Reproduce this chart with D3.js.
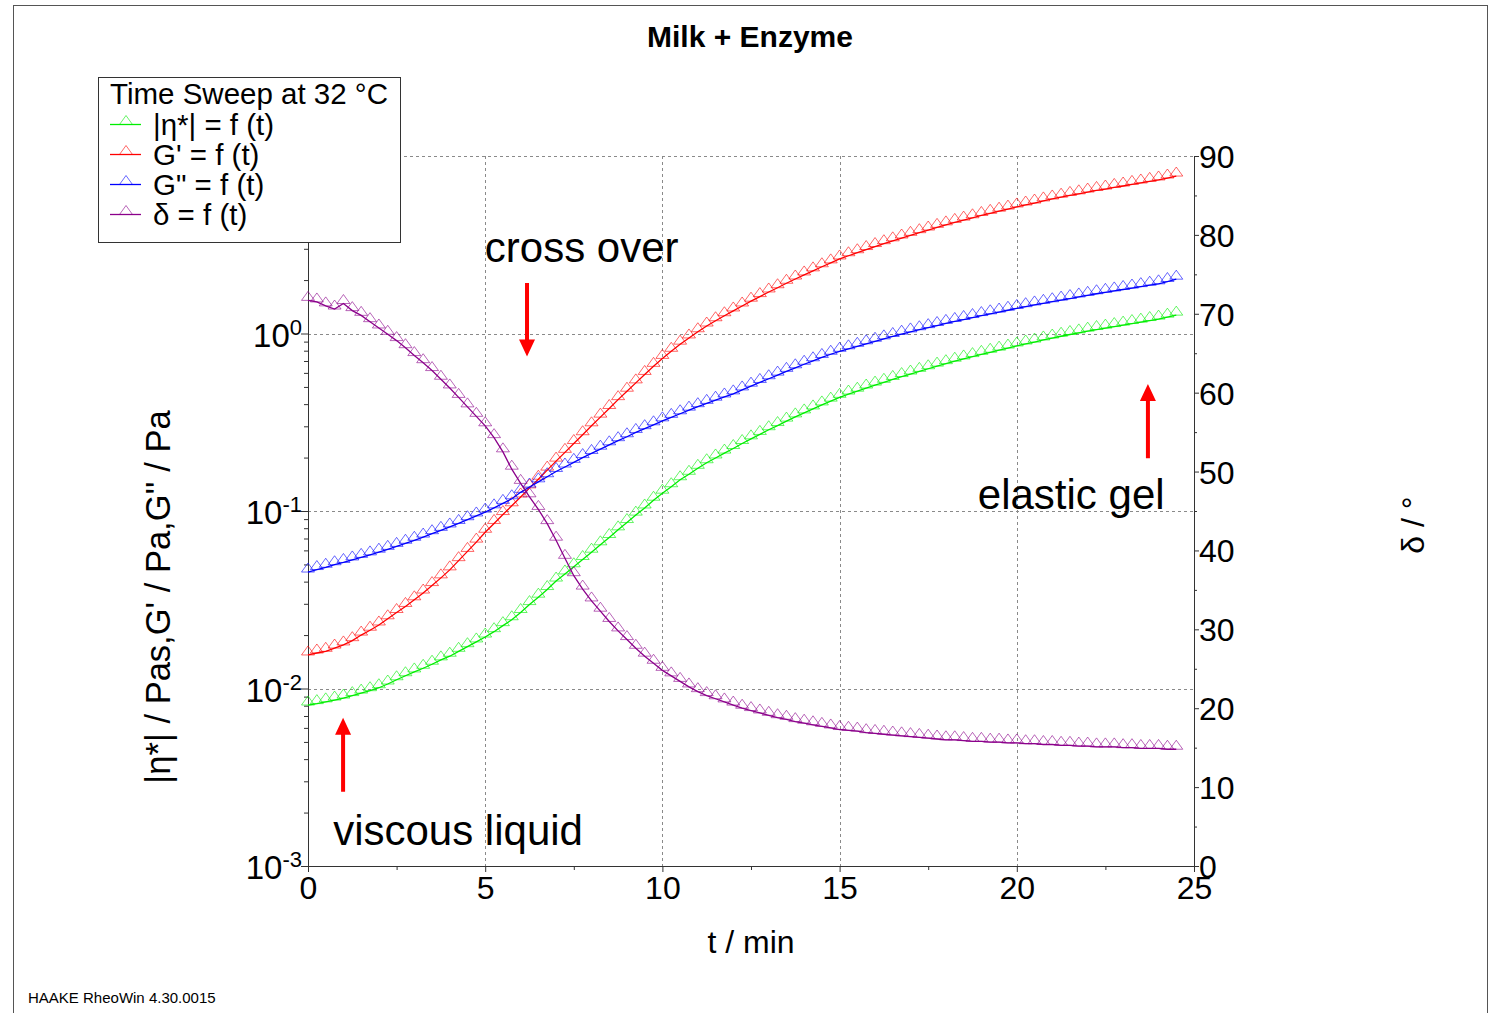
<!DOCTYPE html>
<html lang="en">
<head>
<meta charset="UTF-8">
<title>Milk + Enzyme</title>
<script src="https://d3js.org/d3.v7.min.js"></script>
<style>
  body { margin: 0; background: #fff; }
  svg text { font-family: "Liberation Sans", Arial, sans-serif; fill: #000; }
</style>
</head>
<body>
<div id="chart"></div>
<script>
// time sweep, minutes
var times = [
  0, 0.25, 0.5, 0.75, 1, 1.25, 1.5, 1.75, 2, 2.25, 2.5, 2.75, 3, 3.25, 3.5, 3.75, 4, 4.25, 4.5, 4.75, 5,
  5.25, 5.5, 5.75, 6, 6.25, 6.5, 6.75, 7, 7.25, 7.5, 7.75, 8, 8.25, 8.5, 8.75, 9, 9.25, 9.5, 9.75, 10,
  10.25, 10.5, 10.75, 11, 11.25, 11.5, 11.75, 12, 12.25, 12.5, 12.75, 13, 13.25, 13.5, 13.75, 14, 14.25, 14.5, 14.75, 15,
  15.25, 15.5, 15.75, 16, 16.25, 16.5, 16.75, 17, 17.25, 17.5, 17.75, 18, 18.25, 18.5, 18.75, 19, 19.25, 19.5, 19.75, 20,
  20.25, 20.5, 20.75, 21, 21.25, 21.5, 21.75, 22, 22.25, 22.5, 22.75, 23, 23.25, 23.5, 23.75, 24, 24.25, 24.5
];

// |eta*| in Pas
var etaStar = [
  0.00807, 0.00822, 0.00841, 0.00861, 0.00883, 0.00912, 0.00942, 0.00972, 0.0101, 0.0106, 0.0112, 0.0118, 0.0124, 0.0130, 0.0137, 0.0145, 0.0152, 0.0162, 0.0172, 0.0183, 0.0195,
  0.0209, 0.0226, 0.0244, 0.0268, 0.0297, 0.0327, 0.0361, 0.0403, 0.0442, 0.0485, 0.0533, 0.0586, 0.0645, 0.0709, 0.0783, 0.0861, 0.0948, 0.104, 0.115, 0.126,
  0.137, 0.150, 0.161, 0.174, 0.187, 0.199, 0.212, 0.225, 0.240, 0.255, 0.270, 0.287, 0.303, 0.321, 0.339, 0.357, 0.376, 0.396, 0.416, 0.437,
  0.456, 0.473, 0.493, 0.512, 0.531, 0.551, 0.572, 0.591, 0.612, 0.633, 0.655, 0.676, 0.698, 0.719, 0.741, 0.763, 0.784, 0.806, 0.828, 0.851,
  0.873, 0.895, 0.920, 0.943, 0.965, 0.987, 1.008, 1.031, 1.053, 1.072, 1.094, 1.115, 1.138, 1.159, 1.183, 1.205, 1.236, 1.269
];

// G' in Pa
var gStorage = [
  0.01545, 0.01585, 0.0162, 0.0169, 0.0176, 0.0186, 0.0200, 0.0213, 0.0228, 0.0247, 0.0268, 0.0290, 0.0316, 0.0345, 0.0380, 0.0420, 0.0466, 0.0525, 0.0592, 0.0668, 0.0759,
  0.0851, 0.0955, 0.107, 0.120, 0.135, 0.151, 0.170, 0.191, 0.214, 0.240, 0.269, 0.302, 0.338, 0.378, 0.424, 0.473, 0.527, 0.588, 0.653, 0.724,
  0.794, 0.871, 0.944, 1.023, 1.102, 1.180, 1.259, 1.340, 1.429, 1.521, 1.614, 1.714, 1.811, 1.919, 2.028, 2.138, 2.254, 2.377, 2.500, 2.630,
  2.742, 2.851, 2.972, 3.090, 3.206, 3.327, 3.451, 3.573, 3.698, 3.828, 3.963, 4.093, 4.227, 4.355, 4.487, 4.624, 4.753, 4.887, 5.023, 5.164,
  5.297, 5.433, 5.585, 5.728, 5.861, 5.998, 6.124, 6.266, 6.397, 6.516, 6.653, 6.776, 6.918, 7.047, 7.194, 7.328, 7.516, 7.709
];

// G'' in Pa
var gLoss = [
  0.0453, 0.0468, 0.0482, 0.0498, 0.0513, 0.0530, 0.0548, 0.0566, 0.0586, 0.0608, 0.0632, 0.0658, 0.0684, 0.0713, 0.0745, 0.0778, 0.0813, 0.0851, 0.0893, 0.0938, 0.0986,
  0.1042, 0.1104, 0.1172, 0.1274, 0.1365, 0.146, 0.156, 0.167, 0.177, 0.188, 0.200, 0.211, 0.223, 0.236, 0.249, 0.262, 0.277, 0.291, 0.306, 0.322,
  0.337, 0.353, 0.370, 0.387, 0.404, 0.421, 0.439, 0.457, 0.481, 0.505, 0.530, 0.556, 0.583, 0.612, 0.641, 0.671, 0.702, 0.733, 0.764, 0.794,
  0.820, 0.847, 0.875, 0.904, 0.933, 0.962, 0.991, 1.021, 1.050, 1.079, 1.109, 1.140, 1.169, 1.199, 1.230, 1.262, 1.291, 1.321, 1.352, 1.384,
  1.416, 1.449, 1.479, 1.510, 1.542, 1.574, 1.607, 1.641, 1.675, 1.706, 1.738, 1.770, 1.803, 1.837, 1.871, 1.905, 1.963, 2.023
];

// phase angle delta in degrees (right axis)
var delta = [
  71.7, 71.5, 71.0, 70.6, 71.3, 70.4, 69.8, 69.0, 68.2, 67.4, 66.6, 65.7, 64.7, 63.8, 62.8, 61.7, 60.6, 59.4, 58.2, 57.0, 55.8,
  54.3, 52.5, 50.3, 48.5, 46.8, 45.2, 43.4, 41.3, 39.0, 36.8, 35.1, 33.6, 32.3, 31.0, 29.8, 28.7, 27.6, 26.6, 25.7, 24.8,
  24.1, 23.4, 22.7, 22.1, 21.6, 21.2, 20.8, 20.4, 20.0, 19.7, 19.4, 19.1, 18.8, 18.6, 18.3, 18.1, 17.9, 17.7, 17.5, 17.3,
  17.2, 17.1, 16.9, 16.8, 16.7, 16.6, 16.5, 16.4, 16.3, 16.2, 16.1, 16.0, 16.0, 15.9, 15.8, 15.8, 15.7, 15.7, 15.6, 15.6,
  15.5, 15.5, 15.4, 15.4, 15.3, 15.3, 15.2, 15.2, 15.1, 15.1, 15.1, 15.0, 15.0, 14.9, 14.9, 14.9, 14.8, 14.8
];

var xTicks = [0, 5, 10, 15, 20, 25];
var xMinorTicks = [2.5, 7.5, 12.5, 17.5, 22.5];
var leftExponents = [-3, -2, -1, 0, 1];
var leftLabelled = [-3, -2, -1, 0];   // 10^1 sits behind the legend
var rightTicks = [0, 10, 20, 30, 40, 50, 60, 70, 80, 90];

var series = [
    {name: "|η*| = f (t)", values: etaStar, color: "#00ee00", axis: "left"},
    {name: "G' = f (t)", values: gStorage, color: "#ff0000", axis: "left"},
    {name: "G\" = f (t)", values: gLoss, color: "#0000ff", axis: "left"},
    {name: "δ = f (t)", values: delta, color: "#8b008b", axis: "right"}
];

var W = 1496, H = 1013;
var plot = {left: 308, right: 1194, top: 156, bottom: 866};

var svg = d3.select("#chart").append("svg")
    .attr("width", W).attr("height", H);

// outer frame
svg.append("rect")
    .attr("x", 13.5).attr("y", 5.5)
    .attr("width", 1474).attr("height", 1030)
    .attr("fill", "none").attr("stroke", "#555").attr("stroke-width", 1);

var x = d3.scaleLinear().domain([0, 25]).range([plot.left, plot.right]);
var yL = d3.scaleLog().domain([1e-3, 1e1]).range([plot.bottom, plot.top]);
var yR = d3.scaleLinear().domain([0, 90]).range([plot.bottom, plot.top]);

// grid
var grid = svg.append("g")
    .attr("stroke", "#8a8a8a").attr("stroke-width", 1).attr("stroke-dasharray", "3,3");
grid.selectAll("line.v")
    .data([5, 10, 15, 20]).enter().append("line")
    .attr("x1", function(d) { return Math.round(x(d)) + 0.5; })
    .attr("x2", function(d) { return Math.round(x(d)) + 0.5; })
    .attr("y1", plot.top).attr("y2", plot.bottom);
grid.selectAll("line.h")
    .data([1e-2, 1e-1, 1e0, 1e1]).enter().append("line")
    .attr("x1", plot.left).attr("x2", plot.right)
    .attr("y1", function(d) { return Math.round(yL(d)) + 0.5; })
    .attr("y2", function(d) { return Math.round(yL(d)) + 0.5; });

// axes
function styleAxis(g) {
    g.selectAll(".domain").attr("stroke", "#333");
    g.selectAll(".tick line").attr("stroke", "#333");
}

var xAxis = svg.append("g")
    .attr("transform", "translate(0," + plot.bottom + ")")
    .call(d3.axisBottom(x).tickValues(xTicks).tickSize(6).tickSizeOuter(0).tickFormat(d3.format("d")))
    .call(styleAxis);
xAxis.selectAll("text").attr("font-size", 32).attr("dy", "0.95em").attr("y", 3);
svg.append("g")
    .attr("transform", "translate(0," + plot.bottom + ")")
    .call(d3.axisBottom(x).tickValues(xMinorTicks).tickSize(4).tickSizeOuter(0).tickFormat(""))
    .call(styleAxis);

var minorLog = [];
leftExponents.slice(0, -1).forEach(function(e) {
    for (var m = 2; m <= 9; m++) minorLog.push(m * Math.pow(10, e));
});
svg.append("g")
    .attr("transform", "translate(" + plot.left + ",0)")
    .call(d3.axisLeft(yL).tickValues(minorLog).tickSize(4).tickSizeOuter(0).tickFormat(""))
    .call(styleAxis);
svg.append("g")
    .attr("transform", "translate(" + plot.left + ",0)")
    .call(d3.axisLeft(yL).tickValues(leftExponents.map(function(e) { return Math.pow(10, e); }))
        .tickSize(7).tickSizeOuter(0).tickFormat(""))
    .call(styleAxis);

// decade labels with superscripts
leftLabelled.forEach(function(e) {
    var t = svg.append("text")
        .attr("x", plot.left - 6)
        .attr("y", yL(Math.pow(10, e)) + 13)
        .attr("text-anchor", "end")
        .attr("font-size", 33);
    t.append("tspan").text("10");
    t.append("tspan").attr("font-size", 22).attr("dy", -12).text(e);
});

svg.append("g")
    .attr("transform", "translate(" + plot.right + ",0)")
    .call(d3.axisRight(yR).tickValues(d3.range(5, 90, 10)).tickSize(3).tickSizeOuter(0).tickFormat(""))
    .call(styleAxis);
var yAxisR = svg.append("g")
    .attr("transform", "translate(" + plot.right + ",0)")
    .call(d3.axisRight(yR).tickValues(rightTicks).tickSize(5).tickSizeOuter(0).tickFormat(d3.format("d")))
    .call(styleAxis);
yAxisR.selectAll("text").attr("font-size", 32).attr("x", 5).attr("dy", "0.36em");

// series
var tri = "M-6.5,0L6.5,0L0,-9Z";
series.forEach(function(s) {
    var yScale = s.axis === "left" ? yL : yR;
    var pts = times.map(function(t, i) { return [x(t), yScale(s.values[i])]; });
    var g = svg.append("g");
    g.selectAll("path.mk").data(pts).enter().append("path")
        .attr("class", "mk")
        .attr("d", tri)
        .attr("transform", function(p) { return "translate(" + p[0] + "," + p[1] + ")"; })
        .attr("fill", "none")
        .attr("stroke", s.color)
        .attr("stroke-opacity", 0.6)
        .attr("stroke-width", 1);
    g.append("path")
        .attr("d", d3.line()(pts))
        .attr("fill", "none")
        .attr("stroke", s.color)
        .attr("stroke-width", 1.3);
});

// annotations (placed in data coordinates: t / delta)
var notes = [
    {text: "cross over", t: 4.99, d: 76.6},
    {text: "elastic gel", t: 18.9, d: 45.3},
    {text: "viscous liquid", t: 0.71, d: 2.6}
];
svg.selectAll("text.note").data(notes).enter().append("text")
    .attr("class", "note")
    .attr("x", function(d) { return x(d.t); })
    .attr("y", function(d) { return yR(d.d); })
    .attr("font-size", 42)
    .text(function(d) { return d.text; });

var arrows = [
    {t: 6.18, from: 73.9, to: 64.6},
    {t: 0.99, from: 9.4, to: 18.8},
    {t: 23.7, from: 51.7, to: 61.1}
];
arrows.forEach(function(a) {
    var ax = x(a.t), y0 = yR(a.from), y1 = yR(a.to);
    var dir = y1 > y0 ? 1 : -1;
    var headLen = 17, headW = 8, shaftW = 2;
    var yh = y1 - dir * headLen;
    var p = d3.path();
    p.moveTo(ax - shaftW, y0);
    p.lineTo(ax + shaftW, y0);
    p.lineTo(ax + shaftW, yh);
    p.lineTo(ax + headW, yh);
    p.lineTo(ax, y1);
    p.lineTo(ax - headW, yh);
    p.lineTo(ax - shaftW, yh);
    p.closePath();
    svg.append("path").attr("d", p.toString()).attr("fill", "#ff0000");
});

// axis titles
svg.append("text")
    .attr("x", 750).attr("y", 47)
    .attr("text-anchor", "middle")
    .attr("font-size", 30).attr("font-weight", "bold")
    .text("Milk + Enzyme");
svg.append("text")
    .attr("x", (plot.left + plot.right) / 2).attr("y", 953)
    .attr("text-anchor", "middle")
    .attr("font-size", 32)
    .text("t / min");
svg.append("text")
    .attr("transform", "translate(170,597) rotate(-90)")
    .attr("text-anchor", "middle")
    .attr("font-size", 34.5)
    .text("|η*| / Pas,G' / Pa,G'' / Pa");
svg.append("text")
    .attr("transform", "translate(1424,525) rotate(-90)")
    .attr("text-anchor", "middle")
    .attr("font-size", 32)
    .text("δ / °");

// legend
var legend = svg.append("g");
legend.append("rect")
    .attr("x", 98.5).attr("y", 77.5)
    .attr("width", 302).attr("height", 165)
    .attr("fill", "#fff").attr("stroke", "#333");
legend.append("text")
    .attr("x", 110).attr("y", 104)
    .attr("font-size", 29.5)
    .text("Time Sweep at 32 °C");
series.forEach(function(s, i) {
    var yy = 124.5 + i * 30;
    legend.append("line")
        .attr("x1", 110).attr("x2", 141)
        .attr("y1", yy).attr("y2", yy)
        .attr("stroke", s.color).attr("stroke-width", 1.3);
    legend.append("path")
        .attr("d", tri)
        .attr("transform", "translate(126," + yy + ")")
        .attr("fill", "none").attr("stroke", s.color).attr("stroke-opacity", 0.6);
    legend.append("text")
        .attr("x", 153).attr("y", yy + 10)
        .attr("font-size", 29.5)
        .text(s.name);
});

svg.append("text")
    .attr("x", 28).attr("y", 1003)
    .attr("font-size", 15)
    .text("HAAKE RheoWin 4.30.0015");
</script>
</body>
</html>
